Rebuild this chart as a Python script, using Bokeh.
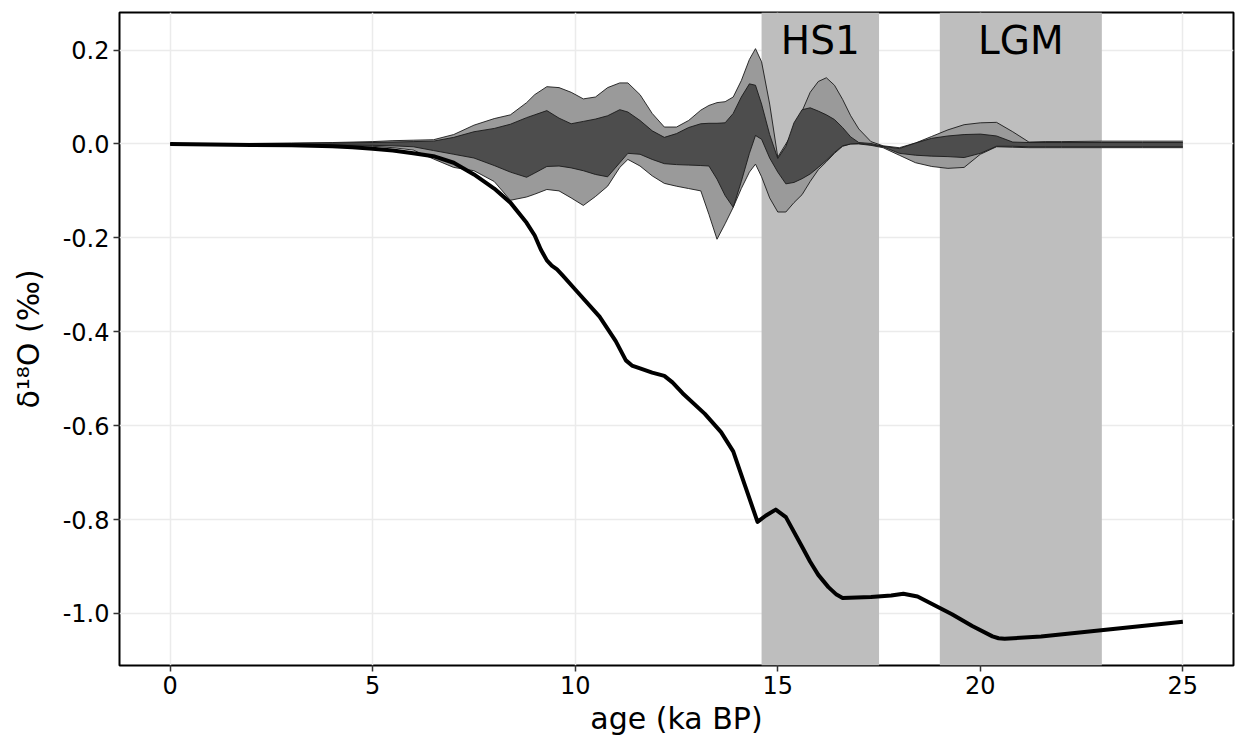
from bokeh.plotting import figure
from bokeh.models import Range1d, FixedTicker, PrintfTickFormatter, BoxAnnotation, ColumnDataSource
from bokeh.embed import file_html
from bokeh.resources import INLINE
from bokeh.core.properties import value

# ---------------- data ----------------
band_age = [0, 1, 2, 3, 4, 5, 5.5, 6, 6.5, 7, 7.5, 8, 8.4, 8.8, 9.0, 9.3, 9.6, 9.9, 10.2, 10.5,
            10.8, 11.1, 11.3, 11.6, 11.9, 12.2, 12.5, 12.8, 13.1, 13.3, 13.5, 13.7, 13.9, 14.1,
            14.3, 14.45, 14.6, 14.8, 15.0, 15.2, 15.4, 15.6, 15.8, 16.0, 16.2, 16.4, 16.6, 16.8,
            17.0, 17.3, 17.6, 18.0, 18.4, 18.8, 19.2, 19.6, 20.0, 20.4, 20.8, 21.2, 21.6, 22.0,
            23, 24, 25]

outer_upper = [0.000, 0.000, 0.001, 0.002, 0.003, 0.005, 0.007, 0.008, 0.009, 0.020, 0.040, 0.054,
               0.062, 0.088, 0.105, 0.122, 0.120, 0.110, 0.096, 0.100, 0.120, 0.130, 0.130, 0.105,
               0.065, 0.036, 0.036, 0.050, 0.072, 0.082, 0.088, 0.090, 0.100, 0.135, 0.180, 0.203,
               0.175, 0.085, -0.028, 0.000, 0.028, 0.070, 0.110, 0.133, 0.141, 0.125, 0.095, 0.060,
               0.032, 0.005, -0.004, -0.008, 0.002, 0.016, 0.030, 0.041, 0.045, 0.046, 0.026, 0.004,
               0.005, 0.005, 0.006, 0.006, 0.006]

inner_upper = [0.000, 0.000, 0.001, 0.001, 0.002, 0.003, 0.004, 0.005, 0.006, 0.014, 0.026, 0.033,
               0.042, 0.056, 0.062, 0.071, 0.055, 0.043, 0.048, 0.053, 0.060, 0.073, 0.068, 0.050,
               0.028, 0.014, 0.022, 0.035, 0.043, 0.044, 0.044, 0.045, 0.065, 0.100, 0.128, 0.125,
               0.085, 0.020, -0.031, -0.005, 0.045, 0.073, 0.077, 0.070, 0.062, 0.052, 0.035, 0.015,
               0.003, 0.001, -0.005, -0.010, 0.002, 0.012, 0.017, 0.020, 0.021, 0.017, 0.004, 0.003,
               0.003, 0.003, 0.003, 0.003, 0.003]

inner_lower = [0.000, 0.000, -0.001, -0.001, -0.002, -0.003, -0.004, -0.006, -0.014, -0.022, -0.030,
               -0.046, -0.060, -0.071, -0.062, -0.048, -0.047, -0.051, -0.057, -0.065, -0.070, -0.040,
               -0.020, -0.022, -0.033, -0.042, -0.044, -0.045, -0.046, -0.047, -0.075, -0.110, -0.135,
               -0.080, -0.020, 0.018, 0.010, -0.030, -0.060, -0.085, -0.082, -0.074, -0.064, -0.050,
               -0.035, -0.018, -0.004, 0.000, 0.001, -0.002, -0.006, -0.020, -0.024, -0.026, -0.027,
               -0.029, -0.020, -0.005, -0.005, -0.006, -0.006, -0.006, -0.006, -0.006, -0.006]

outer_lower = [0.000, 0.000, -0.001, -0.002, -0.003, -0.005, -0.008, -0.013, -0.032, -0.050, -0.057,
               -0.080, -0.120, -0.113, -0.107, -0.097, -0.100, -0.115, -0.131, -0.112, -0.090, -0.050,
               -0.033, -0.047, -0.068, -0.084, -0.090, -0.095, -0.100, -0.150, -0.203, -0.170, -0.135,
               -0.095, -0.060, -0.043, -0.070, -0.115, -0.145, -0.145, -0.125, -0.108, -0.080, -0.055,
               -0.038, -0.020, -0.005, 0.000, 0.000, -0.003, -0.008, -0.024, -0.040, -0.048, -0.052,
               -0.050, -0.022, -0.006, -0.007, -0.008, -0.008, -0.008, -0.008, -0.008, -0.008]

line_age = [0, 1, 2, 3, 4, 4.5, 5, 5.5, 6, 6.5, 7, 7.5, 8, 8.4, 8.8, 9.0, 9.15, 9.3, 9.42, 9.55,
            9.7, 10.0, 10.6, 11.0, 11.25, 11.4, 11.6, 11.9, 12.2, 12.4, 12.65, 13.2, 13.6, 13.9,
            14.2, 14.5, 14.7, 14.95, 15.2, 15.6, 15.8, 16.0, 16.25, 16.45, 16.6, 17.3, 17.8, 18.1,
            18.45, 19.3, 19.8, 20.3, 20.45, 20.6, 21.5, 23.1, 25]
line_d18o = [0.000, -0.001, -0.002, -0.003, -0.005, -0.007, -0.010, -0.014, -0.020, -0.026, -0.040,
             -0.065, -0.095, -0.125, -0.168, -0.195, -0.225, -0.248, -0.259, -0.267, -0.281, -0.310,
             -0.368, -0.420, -0.461, -0.472, -0.478, -0.487, -0.494, -0.508, -0.531, -0.575, -0.614,
             -0.655, -0.730, -0.805, -0.792, -0.779, -0.795, -0.858, -0.890, -0.918, -0.944, -0.960,
             -0.967, -0.965, -0.962, -0.958, -0.964, -1.002, -1.027, -1.049, -1.053, -1.054, -1.049,
             -1.035, -1.018]

event_names = ["HS1", "LGM"]
event_start = [14.6, 19.0]
event_end = [17.5, 23.0]

x_ticks = [0, 5, 10, 15, 20, 25]
y_ticks = [-1.0, -0.8, -0.6, -0.4, -0.2, 0.0, 0.2]

# ---------------- figure ----------------
FONT = "DejaVu Sans"
p = figure(width=1236, height=738, output_backend="svg", toolbar_location=None,
           x_range=Range1d(-1.25, 26.25), y_range=Range1d(-1.111, 0.28),
           min_border_left=119, min_border_right=3, min_border_top=12, min_border_bottom=72,
           x_axis_label="age (ka BP)", y_axis_label="δ¹⁸O (‰)")
p.background_fill_color = "white"
p.border_fill_color = "white"
p.outline_line_color = "black"
p.outline_line_width = 2

for g in (p.xgrid, p.ygrid):
    g.grid_line_color = "#EBEBEB"
    g.grid_line_width = 1.5
    g.minor_grid_line_color = None

# shaded event intervals
for s, e in zip(event_start, event_end):
    p.add_layout(BoxAnnotation(left=s, right=e, fill_color="#BEBEBE", fill_alpha=1.0,
                               line_color=None, level="underlay"))

# bands
p.varea(x=band_age, y1=outer_lower, y2=outer_upper, fill_color="#9A9A9A", fill_alpha=1.0)
p.line(band_age, outer_upper, line_color="#1a1a1a", line_width=0.9, line_join="round")
p.line(band_age, outer_lower, line_color="#1a1a1a", line_width=0.9, line_join="round")
p.varea(x=band_age, y1=inner_lower, y2=inner_upper, fill_color="#4D4D4D", fill_alpha=1.0)
p.line(band_age, inner_upper, line_color="#1a1a1a", line_width=0.9, line_join="round")
p.line(band_age, inner_lower, line_color="#1a1a1a", line_width=0.9, line_join="round")

# main curve
p.line(line_age, line_d18o, line_color="black", line_width=4, line_join="round")

# event labels
mid = [(s + e) / 2 for s, e in zip(event_start, event_end)]
src = ColumnDataSource(dict(x=mid, y=[0.221] * len(mid), t=event_names))
p.text(x="x", y="y", text="t", source=src, text_font=value(FONT), text_font_size="39px",
       text_align="center", text_baseline="alphabetic", text_color="black")

# axes
p.xaxis.ticker = FixedTicker(ticks=x_ticks)
p.yaxis.ticker = FixedTicker(ticks=y_ticks)
p.yaxis.formatter = PrintfTickFormatter(format="%.1f")
for ax in (p.xaxis, p.yaxis):
    ax.axis_line_color = None
    ax.major_tick_in = 0
    ax.major_tick_out = 6
    ax.minor_tick_in = 0
    ax.minor_tick_out = 0
    ax.major_tick_line_color = "#333333"
    ax.major_tick_line_width = 1.5
    ax.major_label_text_font = FONT
    ax.major_label_text_font_size = "24px"
    ax.major_label_text_color = "black"
    ax.major_label_standoff = 4
    ax.axis_label_text_font = FONT
    ax.axis_label_text_font_size = "30px"
    ax.axis_label_text_font_style = "normal"
    ax.axis_label_text_color = "black"
p.xaxis.axis_label_standoff = 4
p.yaxis.axis_label_standoff = 14

open("out.html", "w").write(file_html(p, INLINE))
